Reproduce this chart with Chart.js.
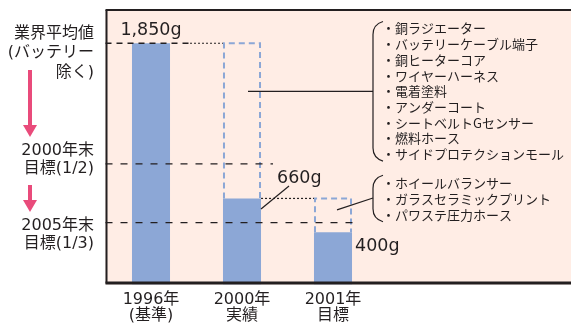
<!DOCTYPE html>
<html lang="ja">
<head>
<meta charset="UTF-8">
<title>鉛使用量の推移</title>
<style>
  body { margin: 0; background: #fff; }
  #wrap { width: 571px; height: 325px; }
</style>
</head>
<body>
<div id="wrap"><canvas id="chart"></canvas></div>
<script src="https://cdn.jsdelivr.net/npm/chart.js"></script>
<script>
// 年ごとの鉛使用量 (g)
const categories = [['1996年', '(基準)'], ['2000年', '実績'], ['2001年', '目標']];
const weights = [1850, 660, 400];
// 点線枠: ひとつ前の段階の値
const previous = [null, 1850, 660];
// 目標ライン
const targetLevels = [1850, 925, 475];
const targetLabels = [['業界平均値', '(バッテリー', '除く)'], ['2000年末', '目標(1/2)'], ['2005年末', '目標(1/3)']];
// 鉛を削減した部品
const partsA = ['銅ラジエーター', 'バッテリーケーブル端子', '銅ヒーターコア', 'ワイヤーハーネス', '電着塗料',
  'アンダーコート', 'シートベルトGセンサー', '燃料ホース', 'サイドプロテクションモール'];
const partsB = ['ホイールバランサー', 'ガラスセラミックプリント', 'パワステ圧力ホース'];

const FONT = '"DejaVu Sans", "Noto Sans CJK JP", sans-serif';
const INK = '#231f20';
const BAR = '#8ca7d6';
const PINK = '#e94b7b';

function seg(ctx, x1, y1, x2, y2, dash, w, color) {
  ctx.save();
  ctx.beginPath();
  ctx.setLineDash(dash);
  ctx.lineWidth = w;
  ctx.strokeStyle = color;
  ctx.moveTo(x1, y1);
  ctx.lineTo(x2, y2);
  ctx.stroke();
  ctx.restore();
}

function brace(ctx, x, top, bottom) {
  ctx.save();
  ctx.beginPath();
  ctx.lineWidth = 1.2;
  ctx.strokeStyle = INK;
  ctx.moveTo(x + 10, top);
  ctx.quadraticCurveTo(x, top + 3, x, top + 13);
  ctx.lineTo(x, bottom - 13);
  ctx.quadraticCurveTo(x, bottom - 3, x + 10, bottom);
  ctx.stroke();
  ctx.restore();
}

function arrow(ctx, x, y1, y2) {
  ctx.save();
  ctx.fillStyle = PINK;
  ctx.fillRect(x - 2, y1, 4, y2 - y1 - 11);
  ctx.beginPath();
  ctx.moveTo(x - 7, y2 - 12);
  ctx.lineTo(x + 7, y2 - 12);
  ctx.lineTo(x, y2);
  ctx.closePath();
  ctx.fill();
  ctx.restore();
}

const decor = {
  id: 'decor',
  beforeDatasetsDraw(chart) {
    const { ctx, chartArea: a } = chart;
    ctx.save();
    ctx.fillStyle = '#ffede5';
    ctx.fillRect(a.left, a.top, chart.width - a.left, a.bottom - a.top);
    ctx.restore();
  },
  afterDatasetsDraw(chart) {
    const { ctx, chartArea: a, scales: { y } } = chart;
    const bars = chart.getDatasetMeta(0).data;
    const L = i => bars[i].x - bars[i].width / 2;
    const R = i => bars[i].x + bars[i].width / 2;

    // 点線枠
    previous.forEach((v, i) => {
      if (v == null) return;
      const yt = y.getPixelForValue(v), yb = y.getPixelForValue(weights[i]);
      ctx.save();
      ctx.beginPath();
      ctx.setLineDash([6, 4]);
      ctx.lineWidth = 2;
      ctx.strokeStyle = BAR;
      ctx.moveTo(L(i) + 1, yb);
      ctx.lineTo(L(i) + 1, yt);
      ctx.lineTo(R(i) - 1, yt);
      ctx.lineTo(R(i) - 1, yb);
      ctx.stroke();
      ctx.restore();
    });

    // 目標ライン
    const y0 = y.getPixelForValue(targetLevels[0]);
    seg(ctx, a.left, y0, R(0) + 20, y0, [6, 5], 1.3, INK);
    seg(ctx, R(0) + 20, y0, L(1), y0, [2, 2], 1.2, INK);
    const y1 = y.getPixelForValue(targetLevels[1]);
    seg(ctx, a.left, y1, R(1) + 12, y1, [7, 8], 1.3, INK);
    const y2 = y.getPixelForValue(targetLevels[2]);
    seg(ctx, a.left, y2, R(2) + 2, y2, [7, 8], 1.3, INK);
    const y660 = y.getPixelForValue(weights[1]);
    seg(ctx, R(1), y660, L(2), y660, [2, 2], 1.2, INK);

    // 値ラベル
    ctx.save();
    ctx.fillStyle = INK;
    ctx.font = '17.5px ' + FONT;
    ctx.textBaseline = 'alphabetic';
    const fmt = v => v.toLocaleString('en-US') + 'g';
    ctx.textAlign = 'center';
    ctx.fillText(fmt(weights[0]), bars[0].x, y.getPixelForValue(weights[0]) - 8.5);
    ctx.textAlign = 'left';
    ctx.fillText(fmt(weights[1]), R(1) + 16, y660 - 15);
    ctx.fillText(fmt(weights[2]), R(2) + 3, y.getPixelForValue(weights[2]) + 19);
    ctx.restore();
    seg(ctx, R(1), y660 + 10.5, R(1) + 28, y660 - 12.5, [], 1.2, INK);

    // 部品リスト
    const bx = 373, step = 15.7;
    ctx.save();
    ctx.fillStyle = INK;
    ctx.font = '13px "Noto Sans CJK JP", sans-serif';
    ctx.textBaseline = 'middle';
    ctx.textAlign = 'left';
    const topA = 28.5, topB = 183.3;
    partsA.forEach((t, i) => ctx.fillText('・' + t, 382, topA + i * step));
    partsB.forEach((t, i) => ctx.fillText('・' + t, 382, topB + i * step));
    ctx.restore();
    const lastA = topA + (partsA.length - 1) * step;
    const lastB = topB + (partsB.length - 1) * step;
    brace(ctx, bx, topA - 7, lastA + 7);
    brace(ctx, bx, topB - 8, lastB + 7);
    const midA = (topA + lastA) / 2;
    seg(ctx, bars[1].x + 6, midA, bx, midA, [], 1.2, INK);
    seg(ctx, bars[2].x + 4, y660 + 11.5, bx, topB + step - 1, [], 1.2, INK);

    // 枠線
    seg(ctx, a.left, a.top, chart.width, a.top, [], 2, INK);
    seg(ctx, a.left + 1, a.top, a.left + 1, a.bottom - 1, [], 2, INK);
    seg(ctx, a.left, a.bottom - 1.5, chart.width, a.bottom - 1.5, [], 3, INK);

    // 左側の目標ラベルと矢印
    const starts = [-9.5, -13, 3.5];
    const gaps = [19.5, 18, 18];
    ctx.save();
    ctx.fillStyle = INK;
    ctx.font = '16px ' + FONT;
    ctx.textAlign = 'right';
    ctx.textBaseline = 'middle';
    targetLabels.forEach((lines, k) => {
      const py = y.getPixelForValue(targetLevels[k]);
      lines.forEach((t, j) => ctx.fillText(t, 94, py + starts[k] + j * gaps[k]));
    });
    ctx.restore();
    arrow(ctx, 30, 70, 137);
    arrow(ctx, 30, 185, 212);
  }
};

Chart.defaults.font.family = FONT;

new Chart(document.getElementById('chart'), {
  type: 'bar',
  data: {
    labels: categories,
    datasets: [{
      data: weights,
      backgroundColor: BAR,
      barPercentage: 0.418,
      categoryPercentage: 1
    }]
  },
  options: {
    responsive: true,
    maintainAspectRatio: false,
    animation: false,
    layout: { padding: { left: 105.5, top: 10, right: 192.5, bottom: 1.5 } },
    plugins: { legend: { display: false }, tooltip: { enabled: false } },
    scales: {
      x: {
        grid: { display: false, drawTicks: false },
        border: { display: false },
        ticks: { color: INK, font: { size: 16, lineHeight: 0.97 }, padding: 8 },
        afterFit(scale) { scale.height = 39; }
      },
      y: { display: false, min: 0, max: 2105 }
    }
  },
  plugins: [decor]
});
</script>
</body>
</html>
